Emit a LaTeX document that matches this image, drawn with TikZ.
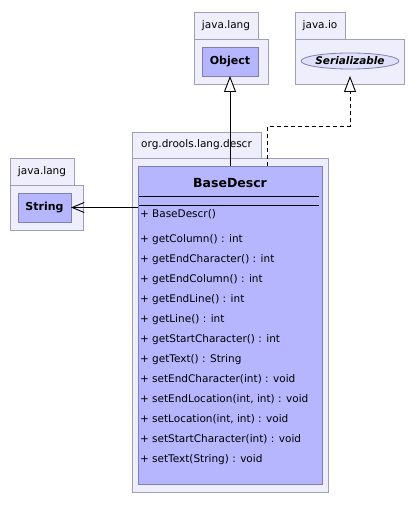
\documentclass[tikz,border=0pt]{standalone}
\usepackage{fontspec}
\setmainfont{DejaVu Sans}
\usepackage{tikz}
\usetikzlibrary{positioning}
\usetikzlibrary{shapes.geometric}
\usetikzlibrary{arrows.meta}
\definecolor{pkgfill}{RGB}{238,238,252}
\definecolor{pkgline}{RGB}{160,160,180}
\definecolor{classfill}{RGB}{182,182,255}
\definecolor{classline}{RGB}{128,128,176}
\definecolor{ifacefill}{RGB}{224,224,248}

\begin{document}
\begin{tikzpicture}
 [ x=1pt, y=-1pt
 , every node/.style={inner sep=0pt, outer sep=0pt}
 , pkgtab/.style={draw=pkgline, fill=pkgfill, line width=0.8pt, anchor=north west, minimum height=27pt, font=\fontsize{10.5}{12}\selectfont}
 , pkgbody/.style={draw=pkgline, fill=pkgfill, line width=0.8pt, anchor=north west}
 , classbox/.style={draw=classline, fill=classfill, line width=0.8pt, anchor=north west, font=\fontsize{11}{13}\selectfont\bfseries}
 , iface/.style={ellipse, draw=classline, fill=ifacefill, line width=0.8pt, minimum width=94pt, minimum height=16pt, font=\fontsize{10.5}{12}\selectfont\bfseries\itshape}
 , method/.style={anchor=west, font=\fontsize{10.5}{12}\selectfont, text height=8pt, text depth=2.5pt}
 , classsep/.style={line width=0.9pt}
 , extends/.style={line width=0.9pt, -{Triangle[length=16pt, width=12pt, fill=white]}}
 , realizes/.style={extends, dash pattern=on 4pt off 3pt}
 , uses/.style={line width=0.9pt, -{Straight Barb[length=12pt, width=10pt]}}
 ]
  \useasboundingbox (0,0) rectangle (416,505);

  % java.lang / Object
  \node[pkgtab, minimum width=64pt] (objtab) at (194,12) {java.lang};
  \node[pkgbody, minimum width=74pt, minimum height=45pt] (objpkg) at (194,39) {};
  \node[classbox, minimum width=56pt, minimum height=29pt] (object) at (202,47) {Object};

  % java.io / Serializable
  \node[pkgtab, minimum width=50pt] (iotab) at (295,12) {java.io};
  \node[pkgbody, minimum width=109pt, minimum height=45pt] (iopkg) at (295,39) {};
  \node[iface] (serial) at (350,61) {Serializable};

  % java.lang / String
  \node[pkgtab, minimum width=64pt] (strtab) at (10,158) {java.lang};
  \node[pkgbody, minimum width=73pt, minimum height=45pt] (strpkg) at (10,185) {};
  \node[classbox, minimum width=53pt, minimum height=29pt] (string) at (18,193) {String};

  % org.drools.lang.descr / BaseDescr
  \node[pkgtab, minimum width=129pt, minimum height=26pt] (descrtab) at (132,132) {org.drools.lang.descr};
  \node[pkgbody, minimum width=196pt, minimum height=334pt] (descrpkg) at (132,158) {};
  \node[classbox, minimum width=184pt, minimum height=318pt] (base) at (138,166) {};
  \node[font=\fontsize{12.5}{15}\selectfont\bfseries] (basename) at (230,183) {BaseDescr};
  \draw[classsep] (139,196) -- (319,196);
  \draw[classsep] (139,205) -- (319,205);

  \node[method] (ctor) at (140,215) {+ BaseDescr()};
  \node[method] (m1)  at (140,240) {+ getColumn() : int};
  \node[method] (m2)  at (140,260) {+ getEndCharacter() : int};
  \node[method] (m3)  at (140,280) {+ getEndColumn() : int};
  \node[method] (m4)  at (140,300) {+ getEndLine() : int};
  \node[method] (m5)  at (140,320) {+ getLine() : int};
  \node[method] (m6)  at (140,340) {+ getStartCharacter() : int};
  \node[method] (m7)  at (140,360) {+ getText() : String};
  \node[method] (m8)  at (140,380) {+ setEndCharacter(int) : void};
  \node[method] (m9)  at (140,400) {+ setEndLocation(int, int) : void};
  \node[method] (m10) at (140,420) {+ setLocation(int, int) : void};
  \node[method] (m11) at (140,440) {+ setStartCharacter(int) : void};
  \node[method] (m12) at (140,460) {+ setText(String) : void};

  % relations
  \draw[extends] (base.north) -- (object.south);
  \coordinate (realstart) at ([xshift=37.7pt]base.north);
  \draw[realizes, shorten >=7pt] (realstart) -- ++(0,-40) -| (serial.south);
  \draw[uses] (base.west |- string.east) -- (string.east);
\end{tikzpicture}
\end{document}
